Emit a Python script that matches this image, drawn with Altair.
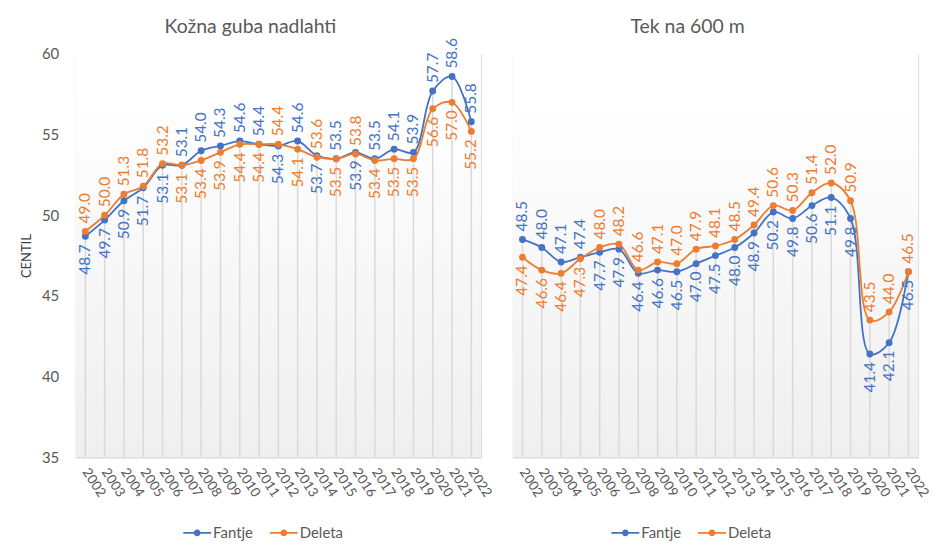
import altair as alt
import pandas as pd

years = ["2002", "2003", "2004", "2005", "2006", "2007", "2008", "2009", "2010", "2011",
         "2012", "2013", "2014", "2015", "2016", "2017", "2018", "2019", "2020", "2021", "2022"]
series_names = ["Fantje", "Deleta"]

left_title = "Kožna guba nadlahti"
left_fantje = [48.7, 49.7, 50.9, 51.7, 53.1, 53.1, 54.0, 54.3, 54.6, 54.4, 54.3, 54.6, 53.7, 53.5,
               53.9, 53.5, 54.1, 53.9, 57.7, 58.6, 55.8]
left_deleta = [49.0, 50.0, 51.3, 51.8, 53.2, 53.1, 53.4, 53.9, 54.4, 54.4, 54.4, 54.1, 53.6, 53.5,
               53.8, 53.4, 53.5, 53.5, 56.6, 57.0, 55.2]
# 1 = Fantje label above its point (Deleta label then below), 0 = the reverse
left_fantje_above = [0, 0, 0, 0, 0, 1, 1, 1, 1, 1, 0, 1, 0, 1, 0, 1, 1, 1, 1, 1, 1]

right_title = "Tek na 600 m"
right_fantje = [48.5, 48.0, 47.1, 47.4, 47.7, 47.9, 46.4, 46.6, 46.5, 47.0, 47.5, 48.0, 48.9, 50.2,
                49.8, 50.6, 51.1, 49.8, 41.4, 42.1, 46.5]
right_deleta = [47.4, 46.6, 46.4, 47.3, 48.0, 48.2, 46.6, 47.1, 47.0, 47.9, 48.1, 48.5, 49.4, 50.6,
                50.3, 51.4, 52.0, 50.9, 43.5, 44.0, 46.5]
right_fantje_above = [1, 1, 1, 1, 0, 0, 0, 0, 0, 0, 0, 0, 0, 0, 0, 0, 0, 0, 0, 0, 0]

y_min, y_max = 35, 60
BLUE = "#4472C4"
ORANGE = "#ED7D31"
GREY = "#595959"
FONT = "Lato"
W, H = 407, 405


def make_df(fantje, deleta, fantje_above):
    rows = []
    for i, yr in enumerate(years):
        rows.append({"year": yr, "series": "Fantje", "value": fantje[i], "above": fantje_above[i] == 1})
        rows.append({"year": yr, "series": "Deleta", "value": deleta[i], "above": fantje_above[i] == 0})
    return pd.DataFrame(rows)


legend_path = ("M-1,-0.06H1V0.06H-1Z "
               "M0.24,0A0.24,0.24 0 1,1 -0.24,0A0.24,0.24 0 1,1 0.24,0Z")

color_scale = alt.Scale(domain=series_names, range=[BLUE, ORANGE])


def panel(fantje, deleta, fantje_above, title, show_y, title_offset, legend_x):
    df = make_df(fantje, deleta, fantje_above)
    legend = alt.Legend(title=None, orient="none", direction="horizontal",
                        legendX=legend_x, legendY=467,
                        symbolType=legend_path, symbolSize=784,
                        symbolStrokeWidth=0, labelFontSize=15,
                        labelColor=GREY, labelFont=FONT, labelOffset=2,
                        columnPadding=16)
    color = alt.Color("series:N", scale=color_scale, legend=legend)
    x = alt.X("year:O", sort=years, title=None,
              axis=alt.Axis(labelAngle=57, labelAlign="left", labelBaseline="middle",
                            labelPadding=12, labelFontSize=13.5, labelColor=GREY, labelFont=FONT,
                            ticks=False, domainColor="#D9D9D9", domainWidth=1.5, grid=False))
    if show_y:
        yaxis = alt.Axis(values=[35, 40, 45, 50, 55, 60], labelFontSize=15, labelColor=GREY,
                         labelFont=FONT, labelPadding=17, ticks=False, domain=False, grid=False,
                         title="CENTIL", titleFontSize=13, titleFontWeight="normal",
                         titleColor="#404040", titleFont=FONT, titlePadding=8)
    else:
        yaxis = None
    yscale = alt.Scale(domain=[y_min, y_max], nice=False, zero=False)
    y = alt.Y("value:Q", scale=yscale, axis=yaxis)

    bg = alt.Chart(pd.DataFrame({"a": [0]})).mark_rect(
        color=alt.LinearGradient(gradient="linear", x1=0, x2=0, y1=0, y2=1,
                                 stops=[alt.GradientStop(color="#FFFFFF", offset=0.1),
                                        alt.GradientStop(color="#EFEFEF", offset=1)])
    ).encode(x=alt.value(0), x2=alt.value(W), y=alt.value(0), y2=alt.value(H))

    drops = alt.Chart(df).transform_aggregate(
        top="max(value)", groupby=["year"]
    ).mark_rule(color="#D9D9D9", strokeWidth=1.5).encode(
        x=x, y=alt.Y("top:Q", scale=yscale, axis=yaxis), y2=alt.datum(y_min)
    )

    lines = alt.Chart(df).mark_line(interpolate="catmull-rom", strokeWidth=1.8).encode(
        x=x, y=y, color=color
    )
    points = alt.Chart(df).mark_point(filled=True, size=48, opacity=1).encode(
        x=x, y=y, color=color
    )
    lab_above = alt.Chart(df).transform_filter("datum.above").mark_text(
        angle=270, align="left", baseline="middle", dx=8, fontSize=15.5, font=FONT
    ).encode(x=x, y=y, text=alt.Text("value:Q", format=".1f"), color=color)
    lab_below = alt.Chart(df).transform_filter("!datum.above").mark_text(
        angle=270, align="right", baseline="middle", dx=-8, fontSize=15.5, font=FONT
    ).encode(x=x, y=y, text=alt.Text("value:Q", format=".1f"), color=color)

    return alt.layer(bg, drops, lines, points, lab_above, lab_below).properties(
        width=W, height=H,
        title=alt.TitleParams(title, fontSize=19.5, fontWeight="normal", color=GREY, font=FONT,
                              offset=title_offset, dx=-28, frame="group")
    )


left = panel(left_fantje, left_deleta, left_fantje_above, left_title, True, 1, 108)
right = panel(right_fantje, right_deleta, right_fantje_above, right_title, False, 17, 99)

chart = alt.hconcat(left, right, spacing=32, bounds="flush").resolve_legend(
    color="independent"
).configure_view(stroke=None).configure(
    background="white", padding={"left": 12, "top": 7, "right": 5, "bottom": 5}
)

chart.save("out.html", embed_options={"renderer": "svg", "actions": False})
